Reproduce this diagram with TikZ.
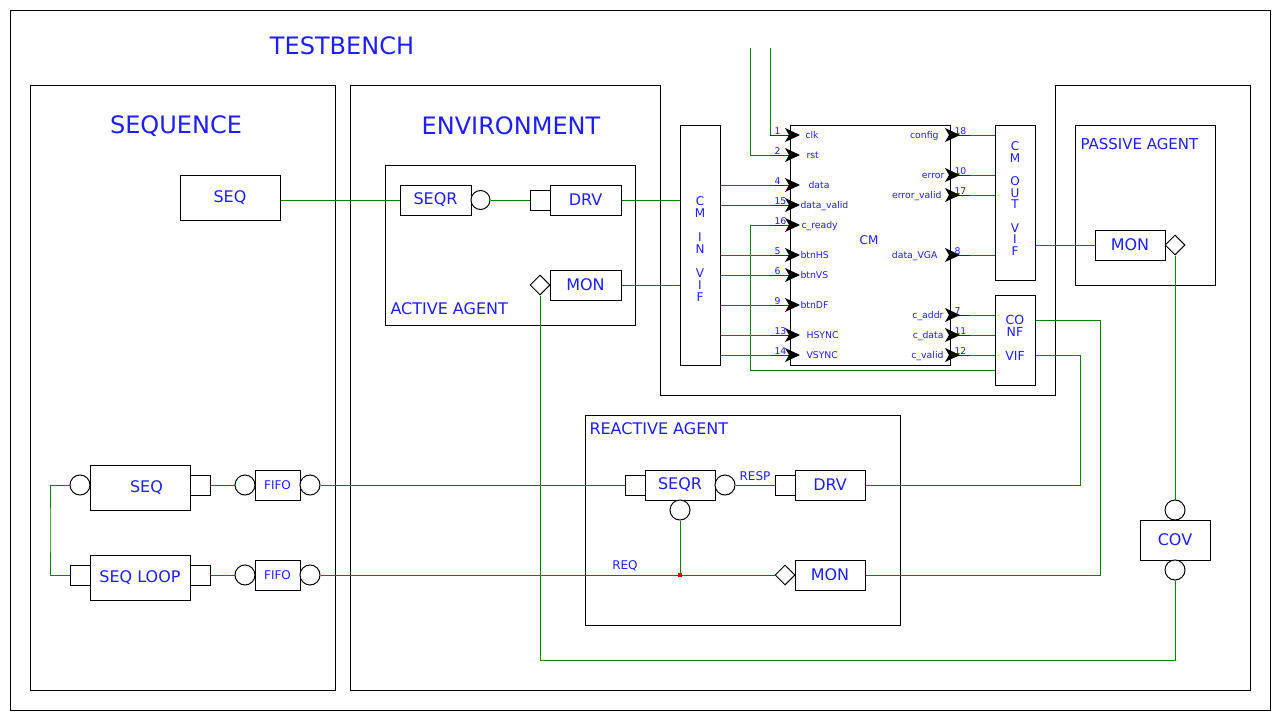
\documentclass[tikz,border=0pt]{standalone}
\usepackage{fontspec}
\setmainfont{DejaVu Sans}
\usetikzlibrary{shapes.geometric}
\definecolor{txt}{RGB}{30,30,255}
\definecolor{wirec}{RGB}{0,128,0}
\definecolor{pinred}{RGB}{128,0,0}
\definecolor{dotred}{RGB}{210,0,0}
\begin{document}
\begin{tikzpicture}[x=1pt,y=-1pt,line width=1pt,
 cont/.style={draw=black,line width=1pt},
 blk/.style={draw=black,fill=white,inner sep=0pt,text=txt,font=\fontsize{16}{18}\selectfont},
 fifo/.style={draw=black,fill=white,inner sep=0pt,text=txt,font=\fontsize{12}{14}\selectfont,minimum width=45pt,minimum height=30pt},
 port/.style={draw=black,fill=white,inner sep=0pt,minimum width=20pt,minimum height=20pt},
 sock/.style={circle,draw=black,fill=white,inner sep=0pt,minimum size=19pt},
 mport/.style={diamond,draw=black,fill=white,inner sep=0pt,minimum width=20pt,minimum height=20pt},
 wire/.style={draw=wirec,line width=1pt},
 pin/.style={draw=pinred,line width=1pt},
 big/.style={text=txt,font=\fontsize{24}{28}\selectfont,inner sep=0pt},
 ttl/.style={text=txt,font=\fontsize{16}{18}\selectfont,inner sep=0pt,anchor=west},
 sml/.style={text=txt,font=\fontsize{12}{14}\selectfont,inner sep=0pt},
 pinl/.style={text=txt,font=\fontsize{9.3}{10}\selectfont,inner sep=0pt},
 vif/.style={draw=black,fill=white,inner sep=0pt},
 viftext/.style={text=txt,inner sep=0pt,align=center}
]
\useasboundingbox (0,0) rectangle (1280,720);
\fill[white] (0,0) rectangle (1280,720);

% containers
\draw[cont] (10,10) rectangle (1270,710);
\draw[cont] (30,85) rectangle (335,690);
\draw[cont] (350,85) -- (660,85) -- (660,395) -- (1055,395) -- (1055,85) -- (1250,85) -- (1250,690) -- (350,690) -- cycle;
\draw[cont] (385,165) rectangle (635,325);
\draw[cont] (1075,125) rectangle (1215,285);
\draw[cont] (585,415) rectangle (900,625);

% titles
\node[big] (tTB) at (342,46) {TESTBENCH};
\node[big] (tSEQ) at (176,126) {SEQUENCE};
\node[big] (tENV) at (511,126) {ENVIRONMENT};
\node[ttl] (tAA) at (390,309) {ACTIVE AGENT};
\node[ttl,font=\fontsize{15}{17}\selectfont] (tPA) at (1080,144) {PASSIVE AGENT};
\node[ttl] (tRA) at (589,429) {REACTIVE AGENT};

% sequence (top)
\node[blk,minimum width=100pt,minimum height=45pt] (seqtop) at (230,197.5) {SEQ};

% active agent
\node[blk,minimum width=71pt,minimum height=30pt] (aseqr) at (435.5,200) {SEQR};
\node[sock] (acirc) at (480.5,200) {};
\node[port] (adrvsq) at (540,200) {};
\node[blk,minimum width=71pt,minimum height=30pt] (adrv) at (585.5,200) {DRV};
\node[blk,minimum width=71pt,minimum height=30pt] (amon) at (585.5,285) {MON};
\node[mport] (adia) at (540,285) {};

% interfaces and DUT
\node[vif,minimum width=40pt,minimum height=240pt] (cminvif) at (700,245) {};
\node[viftext,font=\fontsize{12}{12}\selectfont] (cminvift) at (700,249) {C\\M\\\mbox{}\\I\\N\\\mbox{}\\V\\I\\F};
\node[vif,minimum width=160pt,minimum height=240pt] (cm) at (870,245) {};
\node[sml] (cmt) at (869,240) {CM};
\node[vif,minimum width=40pt,minimum height=155pt] (cmoutvif) at (1015,202.5) {};
\node[viftext,font=\fontsize{12}{11.7}\selectfont] (cmoutvift) at (1015,198.5) {C\\M\\\mbox{}\\O\\U\\T\\\mbox{}\\V\\I\\F};
\node[vif,minimum width=40pt,minimum height=90pt] (confvif) at (1015,340) {};
\node[viftext,font=\fontsize{12.5}{12}\selectfont] (confvift) at (1015,338) {CO\\NF\\\mbox{}\\VIF};

% passive agent and coverage
\node[blk,minimum width=70pt,minimum height=30pt] (pmon) at (1130,245) {MON};
\node[mport] (pdia) at (1175,245) {};
\node[blk,minimum width=70pt,minimum height=40pt] (cov) at (1175,540) {COV};
\node[sock,minimum size=20pt] (covtop) at (1175,510) {};
\node[sock,minimum size=20pt] (covbot) at (1175,570) {};

% left sequences
\node[blk,minimum width=100pt,minimum height=45pt] (lseq) at (140,487.5) {\hspace*{13pt}SEQ};
\node[sock,minimum size=20pt] (lseqc) at (80,485) {};
\node[port] (lseqsq) at (200,485) {};
\node[sock,minimum size=20pt] (lc1) at (245,485) {};
\node[fifo] (fifo1) at (277.5,485) {FIFO};
\node[sock,minimum size=20pt] (lc2) at (310,485) {};
\node[blk,minimum width=100pt,minimum height=45pt] (lloop) at (140,577.5) {SEQ LOOP};
\node[port] (lloopsqL) at (80,575) {};
\node[port] (lloopsqR) at (200,575) {};
\node[sock,minimum size=20pt] (lc3) at (245,575) {};
\node[fifo] (fifo2) at (277.5,575) {FIFO};
\node[sock,minimum size=20pt] (lc4) at (310,575) {};

% reactive agent
\node[port] (rseqsq) at (635,485) {};
\node[blk,minimum width=70pt,minimum height=30pt] (rseqr) at (680,485) {SEQR};
\node[sock,minimum size=20pt] (rcirc) at (725,485) {};
\node[sock,minimum size=20pt] (rcircb) at (680,510) {};
\node[port] (rdrvsq) at (785,485) {};
\node[blk,minimum width=70pt,minimum height=30pt] (rdrv) at (830,485) {DRV};
\node[mport] (rdia) at (785,575) {};
\node[blk,minimum width=70pt,minimum height=30pt] (rmon) at (830,575) {MON};
\node[sml] (resp) at (755,476) {RESP};
\node[sml] (req) at (625,566) {REQ};

% coordinates
\coordinate (clktop) at (770,48);
\coordinate (rsttop) at (750,48);
\coordinate (crc) at (750,370);
\coordinate (k1) at (1100,320);
\coordinate (k2) at (1080,355);
\coordinate (bot) at (0,660);
\coordinate (lp) at (50,530);

% left pins of CM
\foreach \yy/\nn/\lab/\lx in {135/1/clk/805, 155/2/rst/806, 185/4/data/808, 205/15/data\_valid/800, 225/16/c\_ready/801, 255/5/btnHS/800, 275/6/btnVS/800, 305/9/btnDF/800, 335/13/HSYNC/806, 355/14/VSYNC/806} {
  \coordinate (pL\nn) at (770,\yy);
  \draw[pin] (pL\nn) -- (cm.west |- pL\nn);
  \fill[black] (800,\yy) -- (785,\yy-7) -- (789,\yy) -- (785,\yy+7) -- cycle;
  \node[pinl,anchor=base west] (nL\nn) at (774,\yy-1) {\nn};
  \node[pinl,anchor=base west] (lL\nn) at (\lx,\yy+3.4) {\lab};
}
% right pins of CM
\foreach \yy/\nn/\lab/\lx in {135/18/config/939, 175/10/error/945, 195/17/error\_valid/942, 255/8/data\_VGA/938, 315/7/c\_addr/944, 335/11/c\_data/944, 355/12/c\_valid/944} {
  \coordinate (pR\nn) at (970,\yy);
  \draw[pin] (cm.east |- pR\nn) -- (pR\nn);
  \fill[black] (960,\yy) -- (945,\yy-7) -- (949,\yy) -- (945,\yy+7) -- cycle;
  \node[pinl,anchor=base west] (nR\nn) at (954,\yy-1) {\nn};
  \node[pinl,anchor=base east] (lR\nn) at (\lx,\yy+3.4) {\lab};
}

% wires: CM
\foreach \nn in {4,15,5,6,9,13,14} \draw[wire] (cminvif.east |- pL\nn) -- (pL\nn);
\foreach \nn in {18,10,17,8} \draw[wire] (pR\nn) -- (cmoutvif.west |- pR\nn);
\foreach \nn in {7,11,12} \draw[wire] (pR\nn) -- (confvif.west |- pR\nn);
\draw[wire] (clktop) -- (pL1);
\draw[wire] (rsttop) |- (pL2);
\draw[wire] (pL16) -| (crc) -- (confvif.west |- crc);

% wires: sequence / active agent
\draw[wire] (seqtop.east |- aseqr.west) -- (aseqr.west);
\draw[wire] (acirc.east) -- (adrvsq.west);
\draw[wire] (adrv.east) -- (cminvif.west |- adrv.east);
\draw[wire] (amon.east) -- (cminvif.west |- amon.east);
\draw[wire] (adia.south) -- (adia.south |- bot) -| (covbot.south);

% wires: passive / coverage
\draw[wire] (cmoutvif.east |- pmon.west) -- (pmon.west);
\draw[wire] (pdia.south) -- (covtop.north);

% wires: conf vif to reactive agent
\draw[wire] (confvif.east |- k1) -- (k1) |- (rmon.east);
\draw[wire] (confvif.east |- k2) -- (k2) |- (rdrv.east);

% wires: left sequences
\draw[wire] (lseqc.west) -| (lp) |- (lloopsqL.west);
\draw[wire] (lseqsq.east) -- (lc1.west);
\draw[wire] (lloopsqR.east) -- (lc3.west);
\draw[wire] (lc2.east) -- (rseqsq.west);
\draw[wire] (lc4.east) -- (rdia.west);

% wires: reactive agent
\draw[wire] (rcirc.east) -- (rdrvsq.west);
\node[fill=dotred,inner sep=0pt,minimum size=4pt] (rdot) at (680,575) {};
\draw[wire] (rcircb.south) -- (rdot.north);
\end{tikzpicture}
\end{document}
